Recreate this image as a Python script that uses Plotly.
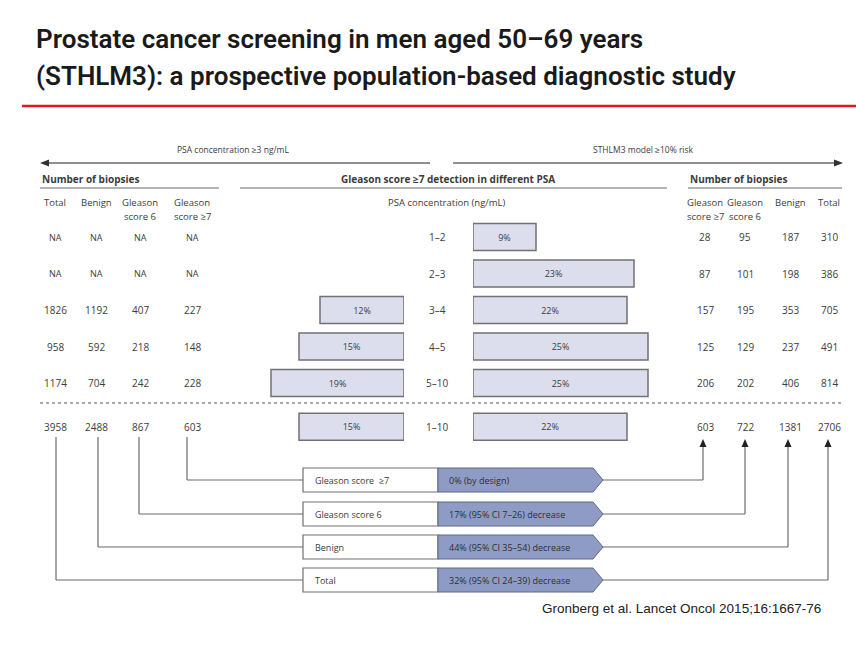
import plotly.graph_objects as go

# ---------------- data ----------------
psa_ranges = ["1–2", "2–3", "3–4", "4–5", "5–10", "1–10"]
psa_detect = [None, None, 12, 15, 19, 15]          # % Gleason >=7, PSA >=3 strategy
sthlm3_detect = [9, 23, 22, 25, 25, 22]            # % Gleason >=7, STHLM3 >=10% strategy

psa_total = ["NA", "NA", 1826, 958, 1174, 3958]
psa_benign = ["NA", "NA", 1192, 592, 704, 2488]
psa_gs6 = ["NA", "NA", 407, 218, 242, 867]
psa_gs7 = ["NA", "NA", 227, 148, 228, 603]

s3_gs7 = [28, 87, 157, 125, 206, 603]
s3_gs6 = [95, 101, 195, 129, 202, 722]
s3_benign = [187, 198, 353, 237, 406, 1381]
s3_total = [310, 386, 705, 491, 814, 2706]

outcomes = ["Gleason score  ≥7", "Gleason score 6", "Benign", "Total"]
changes = ["0% (by design)", "17% (95% CI 7–26) decrease",
           "44% (95% CI 35–54) decrease", "32% (95% CI 24–39) decrease"]

# ---------------- layout constants ----------------
W, H = 856, 647
ROW_POS = [0, 1, 2, 3, 4, 5.2]
ROW0_PX, ROW_STEP = 237, 36.5
PX_PER_PCT = 7
LEFT_BAR_END = 404
RIGHT_BAR_START = 473

FONT = "Open Sans, sans-serif"
TITLE_FONT = "Roboto, Open Sans, sans-serif"
TXT = "#3c3c3c"
LINE = "#6b6b6b"
BAR_FILL = "#dcdeed"
BAR_LINE = "#727272"
BLUE = "#8e9cc5"
BLUE_LINE = "#5f6784"

fig = go.Figure()

# left bars (PSA strategy), growing leftwards
lrows = [r for r, v in zip(ROW_POS, psa_detect) if v is not None]
lvals = [v for v in psa_detect if v is not None]
fig.add_trace(go.Bar(
    x=lvals, y=lrows, orientation="h", xaxis="x2", yaxis="y2", width=0.74,
    marker=dict(color=BAR_FILL, line=dict(color=BAR_LINE, width=1.5)),
    text=[f"{v}%" for v in lvals], textposition="inside", insidetextanchor="middle",
    textangle=0, textfont=dict(family=FONT, size=9, color=TXT),
    hoverinfo="skip", showlegend=False))

# right bars (STHLM3 strategy)
fig.add_trace(go.Bar(
    x=sthlm3_detect, y=ROW_POS, orientation="h", xaxis="x3", yaxis="y2", width=0.74,
    marker=dict(color=BAR_FILL, line=dict(color=BAR_LINE, width=1.5)),
    text=[f"{v}%" for v in sthlm3_detect], textposition="inside", insidetextanchor="middle",
    textangle=0, textfont=dict(family=FONT, size=9, color=TXT),
    hoverinfo="skip", showlegend=False))

ann = []
shapes = []


def txt(x, y, s, size=9, bold=False, anchor="center", color=TXT, yref="y", family=FONT,
        weight=None):
    ann.append(dict(x=x, y=y, xref="x", yref=yref, text=s, showarrow=False,
                    xanchor=anchor, yanchor="middle",
                    font=dict(family=family, size=size, color=color,
                              weight=weight if weight else ("bold" if bold else "normal"))))


def line(x0, y0, x1, y1, color=LINE, width=1.2, dash="solid"):
    shapes.append(dict(type="line", x0=x0, y0=y0, x1=x1, y1=y1, xref="x", yref="y",
                       line=dict(color=color, width=width, dash=dash)))


def path(p, fill, lc=None, lw=0):
    shapes.append(dict(type="path", path=p, xref="x", yref="y", fillcolor=fill,
                       line=dict(color=lc or fill, width=lw)))


# title
txt(34, 39, "Prostate cancer screening in men aged 50–69 years", size=26, anchor="left",
    color="#1a1a1a", family=TITLE_FONT, weight=600)
txt(34, 76, "(STHLM3): a prospective population-based diagnostic study", size=26, anchor="left",
    color="#1a1a1a", family=TITLE_FONT, weight=600)
line(22, 106, 856, 106, color="#e8141b", width=2.5)

# top arrows
txt(233, 149, "PSA concentration ≥3 ng/mL", size=8.5)
txt(643, 149, "STHLM3 model ≥10% risk", size=8.5)
line(46, 163, 430, 163, width=1.3)
path("M 40 163 L 49 159.5 L 49 166.5 Z", "#333333")
line(453, 163, 836, 163, width=1.3)
path("M 843 163 L 834 159.5 L 834 166.5 Z", "#333333")

# section headers
txt(40, 179, "Number of biopsies", size=10, bold=True, anchor="left")
line(40, 188, 219, 188, width=1)
txt(448, 179, "Gleason score ≥7 detection in different PSA", size=10, bold=True)
line(240, 188, 667, 188, width=1)
txt(688, 179, "Number of biopsies", size=10, bold=True, anchor="left")
line(688, 188, 842, 188, width=1)

# column headers
LCOLS = [55, 96, 140, 192]
RCOLS = [705, 745, 790, 829]
txt(LCOLS[0], 202, "Total", size=9.5)
txt(LCOLS[1], 202, "Benign", size=9.5)
txt(LCOLS[2], 202, "Gleason", size=9.5); txt(LCOLS[2], 216, "score 6", size=9.5)
txt(LCOLS[3], 202, "Gleason", size=9.5); txt(LCOLS[3], 216, "score ≥7", size=9.5)
txt(447, 202, "PSA concentration (ng/mL)", size=9.5)
txt(RCOLS[0], 202, "Gleason", size=9.5); txt(RCOLS[0], 216, "score ≥7", size=9.5)
txt(RCOLS[1], 202, "Gleason", size=9.5); txt(RCOLS[1], 216, "score 6", size=9.5)
txt(RCOLS[2], 202, "Benign", size=9.5)
txt(RCOLS[3], 202, "Total", size=9.5)

# table numbers on the row axis
for col_x, vals in zip(LCOLS, [psa_total, psa_benign, psa_gs6, psa_gs7]):
    for r, v in zip(ROW_POS, vals):
        txt(col_x, r, str(v), yref="y2", size=10 if v != "NA" else 9)
for col_x, vals in zip(RCOLS, [s3_gs7, s3_gs6, s3_benign, s3_total]):
    for r, v in zip(ROW_POS, vals):
        txt(col_x, r, str(v), yref="y2", size=10)
for r, lab in zip(ROW_POS, psa_ranges):
    txt(437, r, lab, yref="y2", size=10)

# dashed separator
line(40, 403, 842, 403, width=1, dash="dot", color="#555555")

# flow diagram
BOX_Y = [480, 514, 547, 580]
LEFT_LINE_X = [187, 139, 98, 56]
RIGHT_LINE_X = [703, 745, 788, 828]
HH = 12
for i, (lab, ch) in enumerate(zip(outcomes, changes)):
    yc = BOX_Y[i]
    # left connector
    line(LEFT_LINE_X[i], 437, LEFT_LINE_X[i], yc)
    line(LEFT_LINE_X[i], yc, 303, yc)
    # white box
    shapes.append(dict(type="rect", x0=303, x1=438, y0=yc - HH, y1=yc + HH, xref="x", yref="y",
                       fillcolor="white", line=dict(color="#707070", width=1.2)))
    # blue pentagon
    path(f"M 438 {yc - HH} L 593 {yc - HH} L 603 {yc} L 593 {yc + HH} L 438 {yc + HH} Z",
         BLUE, BLUE_LINE, 1)
    txt(313, yc, lab, anchor="left")
    txt(447, yc, ch, anchor="left", color="#2e2e2e")
    # right connector with arrow
    line(603, yc, RIGHT_LINE_X[i], yc)
    line(RIGHT_LINE_X[i], yc, RIGHT_LINE_X[i], 446)
    path(f"M {RIGHT_LINE_X[i]} 439 L {RIGHT_LINE_X[i] - 3.5} 447 L {RIGHT_LINE_X[i] + 3.5} 447 Z",
         "#222222")

# citation
txt(540, 608, "Gronberg et al. Lancet Oncol 2015;16:1667-76", size=13.5, anchor="left",
    color="#222222", family="Liberation Sans, Arial, sans-serif")

row_lo = (H - ROW0_PX) / ROW_STEP
row_hi = -ROW0_PX / ROW_STEP

fig.update_layout(
    width=W, height=H, margin=dict(l=0, r=0, t=0, b=0),
    paper_bgcolor="white", plot_bgcolor="white", showlegend=False,
    xaxis=dict(range=[0, W], domain=[0, 1], visible=False, fixedrange=True),
    yaxis=dict(range=[H, 0], domain=[0, 1], visible=False, fixedrange=True),
    xaxis2=dict(range=[LEFT_BAR_END / PX_PER_PCT, 0], domain=[0, LEFT_BAR_END / W],
                anchor="y2", visible=False, fixedrange=True),
    xaxis3=dict(range=[0, (W - RIGHT_BAR_START) / PX_PER_PCT], domain=[RIGHT_BAR_START / W, 1],
                anchor="y2", visible=False, fixedrange=True),
    yaxis2=dict(range=[row_lo, row_hi], domain=[0, 1], anchor="x2", visible=False,
                fixedrange=True),
    annotations=ann, shapes=shapes,
)

fig.write_html("out.html", config={"displayModeBar": False})
